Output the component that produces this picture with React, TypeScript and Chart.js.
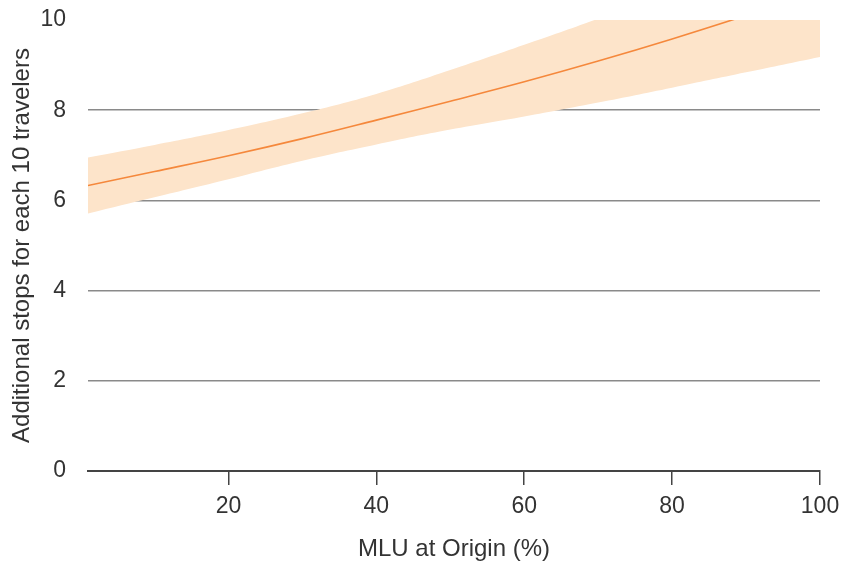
import React, { useEffect, useRef } from "react";
import { Chart, registerables } from "chart.js";

Chart.register(...registerables);

const xValues = [1, 10, 20, 30, 40, 50, 60, 70, 80, 90, 100];
const estimate = [6.33, 6.64, 6.99, 7.37, 7.78, 8.2, 8.63, 9.09, 9.58, 10.1, 10.64];
const upperBound = [6.95, 7.23, 7.56, 7.93, 8.36, 8.89, 9.45, 10.03, 10.65, 11.3, 11.98];
const lowerBound = [5.71, 6.07, 6.47, 6.88, 7.24, 7.57, 7.86, 8.17, 8.5, 8.84, 9.18];
const xTickValues = [20, 40, 60, 80, 100];
const xTitle = "MLU at Origin (%)";
const yTitle = "Additional stops for each 10 travelers";

const FONT = "'Liberation Sans', Arial, sans-serif";

export default function App() {
  const canvasRef = useRef<HTMLCanvasElement | null>(null);

  useEffect(() => {
    document.body.style.margin = "0";
    const canvas = canvasRef.current;
    if (!canvas) return;
    const toPts = (ys: number[]) => xValues.map((x, i) => ({ x, y: ys[i] }));
    const chart = new Chart(canvas, {
      type: "line",
      data: {
        datasets: [
          {
            label: "upper",
            data: toPts(upperBound),
            borderWidth: 0,
            pointRadius: 0,
            backgroundColor: "#fde4ca",
            fill: "+1",
            tension: 0.4,
            clip: 0,
            order: 2,
          },
          {
            label: "lower",
            data: toPts(lowerBound),
            borderWidth: 0,
            pointRadius: 0,
            fill: false,
            tension: 0.4,
            clip: 0,
            order: 2,
          },
          {
            label: "estimate",
            data: toPts(estimate),
            borderColor: "#f5883c",
            borderWidth: 1.6,
            pointRadius: 0,
            fill: false,
            tension: 0.4,
            clip: 0,
            order: 0,
          },
        ],
      },
      options: {
        animation: false,
        responsive: true,
        maintainAspectRatio: false,
        layout: { padding: { top: 20, right: 21, left: 0, bottom: 0 } },
        plugins: {
          legend: { display: false },
          tooltip: { enabled: false },
        },
        scales: {
          x: {
            type: "linear",
            min: 1,
            max: 100,
            afterBuildTicks: (scale: any) => {
              scale.ticks = xTickValues.map((v) => ({ value: v }));
            },
            afterFit: (scale: any) => {
              scale.height = 96;
              scale.paddingLeft = 0;
              scale.paddingRight = 0;
            },
            grid: {
              drawOnChartArea: false,
              drawTicks: true,
              tickLength: 14,
              color: "#444",
              lineWidth: 1.5,
            },
            border: { display: true, color: "#444", width: 2 },
            ticks: {
              color: "#333",
              font: { family: FONT, size: 23 },
              padding: 8,
              maxRotation: 0,
            },
            title: {
              display: true,
              text: xTitle,
              color: "#333",
              font: { family: FONT, size: 24 },
              padding: { top: 0, bottom: 3 },
            },
          },
          y: {
            type: "linear",
            min: 0,
            max: 10,
            afterFit: (scale: any) => {
              scale.width = 88;
              scale.paddingTop = 0;
              scale.paddingBottom = 0;
            },
            grid: {
              drawTicks: false,
              color: (ctx: any) => {
                const v = ctx.tick ? ctx.tick.value : 0;
                return v === 0 || v === 10 ? "rgba(0,0,0,0)" : "#8a8a8a";
              },
              lineWidth: 1.5,
            },
            border: { display: false },
            ticks: {
              stepSize: 2,
              color: "#333",
              font: { family: FONT, size: 23 },
              padding: 22,
            },
            title: {
              display: true,
              text: yTitle,
              color: "#333",
              font: { family: FONT, size: 24 },
              padding: { top: 8, bottom: 0 },
            },
          },
        },
      },
    });
    return () => chart.destroy();
  }, []);

  return (
    <div style={{ position: "relative", width: 841, height: 567 }}>
      <canvas ref={canvasRef} />
    </div>
  );
}
